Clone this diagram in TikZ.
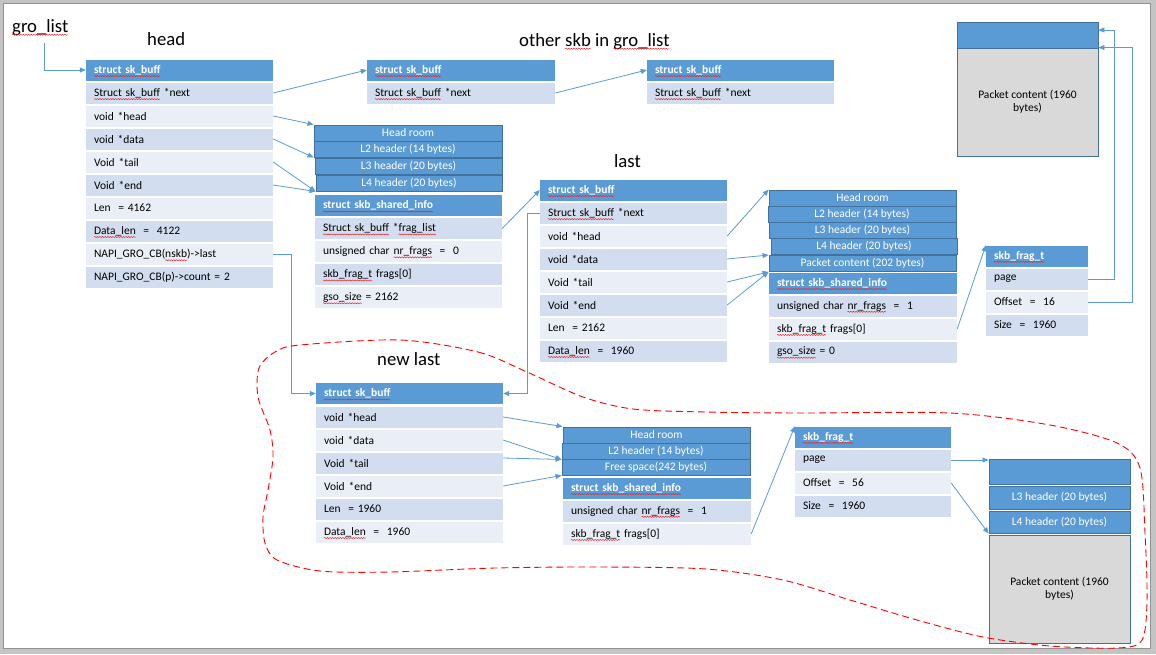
\documentclass[tikz,border=0pt]{standalone}
\usepackage{fontspec}
\setmainfont{Carlito}
\usetikzlibrary{arrows.meta,decorations.pathmorphing}
\definecolor{hblue}{HTML}{5B9BD5}
\definecolor{bandA}{HTML}{D2DEEF}
\definecolor{bandB}{HTML}{EAEFF7}
\definecolor{segline}{HTML}{41719C}
\definecolor{paygray}{HTML}{D9D9D9}
\definecolor{spellred}{HTML}{E8262A}
\definecolor{framegray}{HTML}{C4C4C4}
\newsavebox\wavybox
\newdimen\wavylen
\newcommand\wavy[1]{\sbox\wavybox{#1}\wavylen=\wd\wavybox\usebox\wavybox%
  \tikz[overlay, baseline=0pt]\draw[spellred, fill=none, -, line width=0.5pt, decorate,
    decoration={snake, amplitude=0.55pt, segment length=2.6pt}]
    (-\wavylen,-2.8pt) -- (0pt,-2.8pt);}
\begin{document}
\begin{tikzpicture}[x=1pt,y=-1pt,
    every node/.style={font=\fontsize{11.5}{13}\selectfont},
    hdr/.style={fill=hblue, text=white, font=\fontsize{11.5}{13}\selectfont\bfseries,
      minimum height=21pt, inner xsep=8pt, inner ysep=0pt, text width=#1pt, align=left},
    rowa/.style={fill=bandA, minimum height=21pt, inner xsep=8pt, inner ysep=0pt,
      text width=#1pt, align=left},
    rowb/.style={rowa=#1, fill=bandB},
    seg/.style={fill=hblue, draw=segline, line width=0.9pt, text=white, inner sep=0pt,
      minimum width=#1, minimum height=16pt},
    pay/.style={fill=paygray, draw=segline, line width=0.9pt, inner sep=0pt,
      minimum width=141, minimum height=108, align=center},
    title/.style={font=\fontsize{18.7}{22}\selectfont, inner sep=0pt, anchor=base west},
    link/.style={draw=hblue, line width=0.8pt, -{Triangle[length=6pt,width=5pt]}}]
  \useasboundingbox (0,0) rectangle (1156,654);
  \fill[framegray] (0,0) rectangle (1156,654);
  \filldraw[fill=white, draw=gray!85] (3,3) rectangle (1150,648);

  \draw
    (12,32) node[title] (gl) {\wavy{gro\_list}}
    (147,45) node[title] (th) {head}
    (519,46) node[title] (to) {other \wavy{skb} in \wavy{gro\_list}}
    (614,167) node[title] (tl) {last}
    (377,365) node[title] (tn) {new last};
  \coordinate (gls) at (44,43);

  % head
  \draw
    (179.5,70) node[hdr=171] (h0) {\wavy{struct sk\_buff}}
    (179.5,93) node[rowa=171] (h1) {\wavy{Struct sk\_buff} *next}
    (179.5,116) node[rowb=171] (h2) {void *head}
    (179.5,139) node[rowa=171] (h3) {void *data}
    (179.5,162) node[rowb=171] (h4) {Void *tail}
    (179.5,185) node[rowa=171] (h5) {Void *end}
    (179.5,208) node[rowb=171] (h6) {Len\ \ = 4162}
    (179.5,231) node[rowa=171] (h7) {\wavy{Data\_len}\ \ =\ \ 4122}
    (179.5,254) node[rowb=171] (h8) {NAPI\_GRO\_CB(\wavy{nskb})->last}
    (179.5,277) node[rowa=171] (h9) {NAPI\_GRO\_CB(p)->count = 2};

  % other skb in gro_list
  \draw
    (461,70) node[hdr=172] (o0) {\wavy{struct sk\_buff}}
    (461,93) node[rowa=172] (o1) {\wavy{Struct sk\_buff} *next}
    (740.5,70) node[hdr=171] (p0) {\wavy{struct sk\_buff}}
    (740.5,93) node[rowa=171] (p1) {\wavy{Struct sk\_buff} *next};

  \draw
    (408,133) node[seg=188] (b0) {Head room}
    (408,149) node[seg=188] (b1) {L2 header (14 bytes)}
    (408.5,166) node[seg=187] (b2) {L3 header (20 bytes)}
    (409,183) node[seg=186] (b3) {L4 header (20 bytes)}
    (408.5,205.5) node[hdr=171] (s0) {\wavy{struct skb\_shared\_info}}
    (408.5,228.5) node[rowa=171] (s1) {\wavy{Struct sk\_buff} *\wavy{frag\_list}}
    (408.5,251.5) node[rowb=171] (s2) {unsigned char \wavy{nr\_frags}\ \ =\ \ 0}
    (408.5,274.5) node[rowa=171] (s3) {\wavy{skb\_frag\_t} frags[0]}
    (408.5,297.5) node[rowb=171] (s4) {\wavy{gso\_size} = 2162};

  % last
  \draw
    (633.5,190) node[hdr=171] (t0) {\wavy{struct sk\_buff}}
    (633.5,213) node[rowa=171] (t1) {\wavy{Struct sk\_buff} *next}
    (633.5,236) node[rowb=171] (t2) {void *head}
    (633.5,259) node[rowa=171] (t3) {void *data}
    (633.5,282) node[rowb=171] (t4) {Void *tail}
    (633.5,305) node[rowa=171] (t5) {Void *end}
    (633.5,328) node[rowb=171] (t6) {Len\ \ = 2162}
    (633.5,351) node[rowa=171] (t7) {\wavy{Data\_len}\ \ =\ \ 1960};

  \draw
    (862.5,198) node[seg=187] (c0) {Head room}
    (862,214) node[seg=188] (c1) {L2 header (14 bytes)}
    (862.5,230.5) node[seg=187] (c2) {L3 header (20 bytes)}
    (864,246.5) node[seg=186] (c3) {L4 header (20 bytes)}
    (862.5,263.5) node[seg=187] (c4) {Packet content (202 bytes)}
    (863,283) node[hdr=172] (u0) {\wavy{struct skb\_shared\_info}}
    (863,306) node[rowa=172] (u1) {unsigned char \wavy{nr\_frags}\ \ =\ \ 1}
    (863,329) node[rowb=172] (u2) {\wavy{skb\_frag\_t} frags[0]}
    (863,352) node[rowa=172] (u3) {\wavy{gso\_size} = 0};

  \draw
    (1037,256) node[hdr=86] (f0) {\wavy{skb\_frag\_t}}
    (1037,279) node[rowa=86] (f1) {page}
    (1037,302) node[rowb=86] (f2) {Offset\ \ =\ \ 16}
    (1037,325) node[rowa=86] (f3) {Size\ \ =\ \ 1960}
    (1027.5,35) node[seg=141, minimum height=26] (q0) {}
    (1027.5,102) node[pay] (q1) {Packet content (1960\\bytes)};

  % new last
  \draw
    (409.5,393.5) node[hdr=171] (n0) {\wavy{struct sk\_buff}}
    (409.5,417) node[rowa=171] (n1) {void *head}
    (409.5,440) node[rowb=171] (n2) {void *data}
    (409.5,463) node[rowa=171] (n3) {Void *tail}
    (409.5,486) node[rowb=171] (n4) {Void *end}
    (409.5,509) node[rowa=171] (n5) {Len\ \ = 1960}
    (409.5,532) node[rowb=171] (n6) {\wavy{Data\_len}\ \ =\ \ 1960};

  \draw
    (656.5,435) node[seg=187] (d0) {Head room}
    (656,451) node[seg=188] (d1) {L2 header (14 bytes)}
    (656,467) node[seg=188] (d2) {Free space(242 bytes)}
    (657,488) node[hdr=172] (v0) {\wavy{struct skb\_shared\_info}}
    (657,511) node[rowa=172] (v1) {unsigned char \wavy{nr\_frags}\ \ =\ \ 1}
    (657,534) node[rowb=172] (v2) {\wavy{skb\_frag\_t} frags[0]};

  \draw
    (873,437) node[hdr=140] (g0) {\wavy{skb\_frag\_t}}
    (873,460) node[rowa=140] (g1) {page}
    (873,483) node[rowb=140] (g2) {Offset\ \ =\ \ 56}
    (873,506) node[rowa=140] (g3) {Size\ \ =\ \ 1960}
    (1059.5,471.5) node[seg=141, minimum height=25] (r0) {}
    (1059.5,497.5) node[seg=141, minimum height=23] (r1) {L3 header (20 bytes)}
    (1059.5,522) node[seg=141, minimum height=22] (r2) {L4 header (20 bytes)}
    (1059.5,589) node[pay] (r3) {Packet content (1960\\bytes)};

  \begin{scope}[link]
    \draw (gls) |- (h0.west);
    \draw (h1.east) to (o0.west);
    \draw (o1.east) to (p0.west);
    \draw (h2.east) to (b0.north west);
    \draw (h3.east) to (b1.south west);
    \draw (h4.east) to (b3.south west);
    \draw (h5.east) to (b3.south west);
    \draw (h8.east) -- ++(18,0) |- (n0.west);
    \draw (s1.east) to (t0.west);
    \draw (t1.west) -- ++(-12,0) |- (n0.east);
    \draw (t2.east) to (c0.north west);
    \draw (t3.east) to (c4.north west);
    \draw (t4.east) to (c4.south west);
    \draw (t5.east) to (c4.south west);
    \draw (u2.east) to (f0.north west);
    \draw (f1.east) -- ++(26,0) |- ([yshift=5pt]q0.east);
    \draw (f2.east) -- ++(44,0) |- (q1.north east);
    \draw (n1.east) to (d0.north west);
    \draw (n2.east) to (d1.south west);
    \draw ([yshift=5pt]n3.east) to (d1.south west);
    \draw (n4.east) to (d2.south west);
    \draw (v2.east) to (g0.north west);
    \draw (g1.east) to (g1.east -| r0.west);
    \draw (g2.east) to (r2.south west);
  \end{scope}

  \draw[red, line width=0.9pt, dash pattern=on 7pt off 4pt] plot[smooth cycle] coordinates {
    (400,340) (478,352) (527,372) (583,397) (633,409) (706,412) (800,413)
    (950,413) (1050,425) (1117,443) (1140,468) (1145,533) (1147,600)
    (1142,640) (1118,648) (1050,646) (983,637) (917,620) (850,600)
    (783,580) (706,569) (601,567) (495,568) (390,572) (320,571) (277,560)
    (265,543) (263,517) (268,490) (273,457) (270,430) (258,397) (259,368)
    (275,352) (300,345)};
\end{tikzpicture}
\end{document}
